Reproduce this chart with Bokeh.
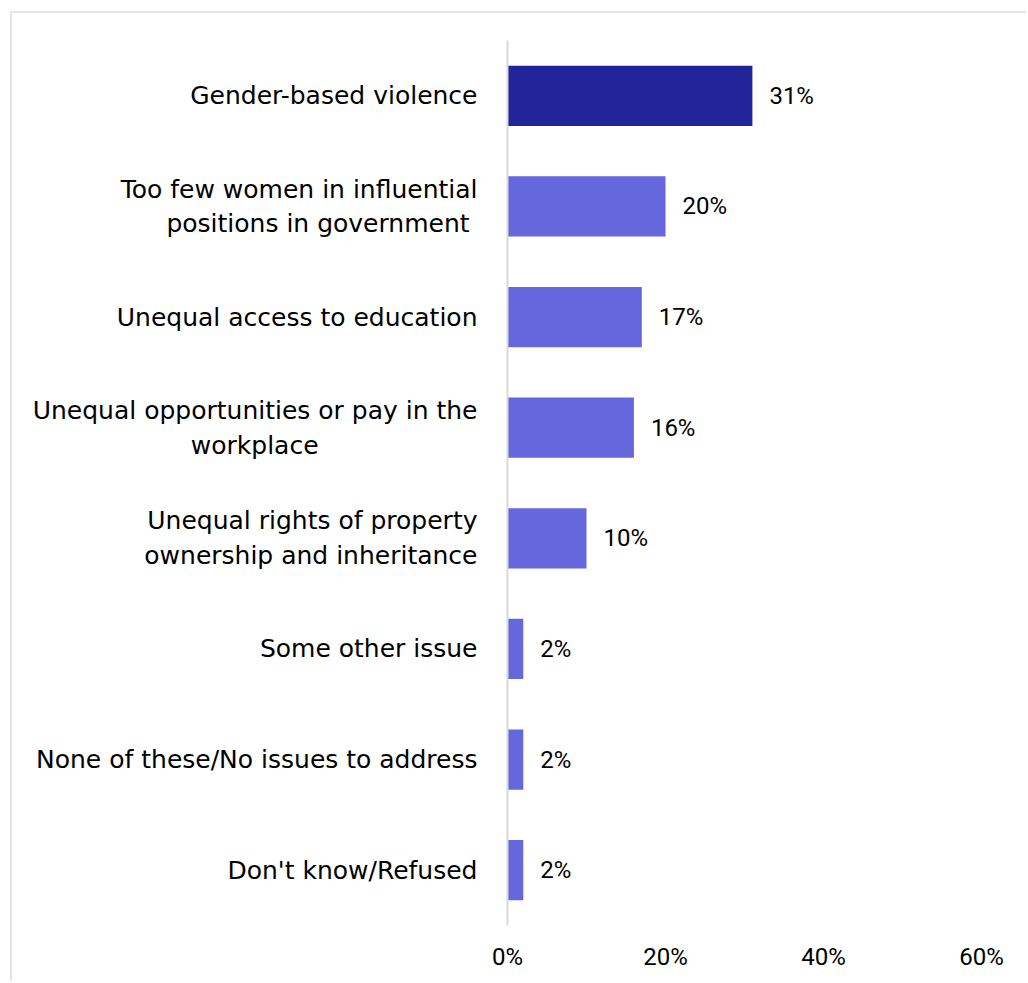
from bokeh.plotting import figure
from bokeh.models import (ColumnDataSource, FactorRange, FixedTicker, PrintfTickFormatter,
                          LabelSet)
from bokeh.core.properties import value
from bokeh.embed import file_html
from bokeh.resources import INLINE

NB = "\u00a0"
categories = [
    "Gender-based violence",
    "Too few women in influential\npositions in government" + NB * 1,
    "Unequal access to education",
    "Unequal opportunities or pay in the\nworkplace" + NB * 20,
    "Unequal rights of property\nownership and inheritance",
    "Some other issue",
    "None of these/No issues to address",
    "Don't know/Refused",
]
values = [31, 20, 17, 16, 10, 2, 2, 2]
labels = ["31%", "20%", "17%", "16%", "10%", "2%", "2%", "2%"]
colors = ["#24249A", "#6666DD", "#6666DD", "#6666DD", "#6666DD", "#6666DD", "#6666DD", "#6666DD"]
x_ticks = [0, 20, 40, 60]

src = ColumnDataSource(dict(cat=categories, val=values, lab=labels, col=colors))

W, H = 1016, 970
p = figure(width=W, height=H, output_backend="svg", toolbar_location=None,
           y_range=FactorRange(factors=list(reversed(categories))),
           x_range=(0, 60),
           min_border_left=495, min_border_right=47, min_border_top=27, min_border_bottom=58)
p.styles = {"border-left": "2px solid #e4e4e4", "border-top": "2px solid #e4e4e4",
            "margin-left": "10px", "margin-top": "11px"}

p.hbar(y="cat", right="val", left=0, height=0.545, color="col", source=src, line_color=None)

lbl_font = "Roboto"
p.add_layout(LabelSet(x="val", y="cat", text="lab", source=src, x_offset=17,
                      text_baseline="middle", text_align="left",
                      text_font_size="24px", text_color="#000000", text_font=value(lbl_font)))

p.outline_line_color = None
p.xgrid.visible = False
p.ygrid.visible = False

p.xaxis.ticker = FixedTicker(ticks=x_ticks)
p.xaxis.formatter = PrintfTickFormatter(format="%d%%")
p.xaxis.axis_line_color = None
p.xaxis.major_tick_line_color = None
p.xaxis.minor_tick_line_color = None
p.xaxis.major_label_text_font_size = "24px"
p.xaxis.major_label_text_font = lbl_font
p.xaxis.major_label_text_color = "#000000"
p.xaxis.major_label_standoff = 11

p.yaxis.axis_line_color = "#d9d9d9"
p.yaxis.axis_line_width = 2
p.yaxis.major_tick_line_color = None
p.yaxis.minor_tick_line_color = None
p.yaxis.major_label_text_font = "DejaVu Sans"
p.yaxis.major_label_text_font_size = "25px"
p.yaxis.major_label_text_color = "#000000"
p.yaxis.major_label_standoff = 24

open("out.html", "w").write(file_html(p, INLINE))
